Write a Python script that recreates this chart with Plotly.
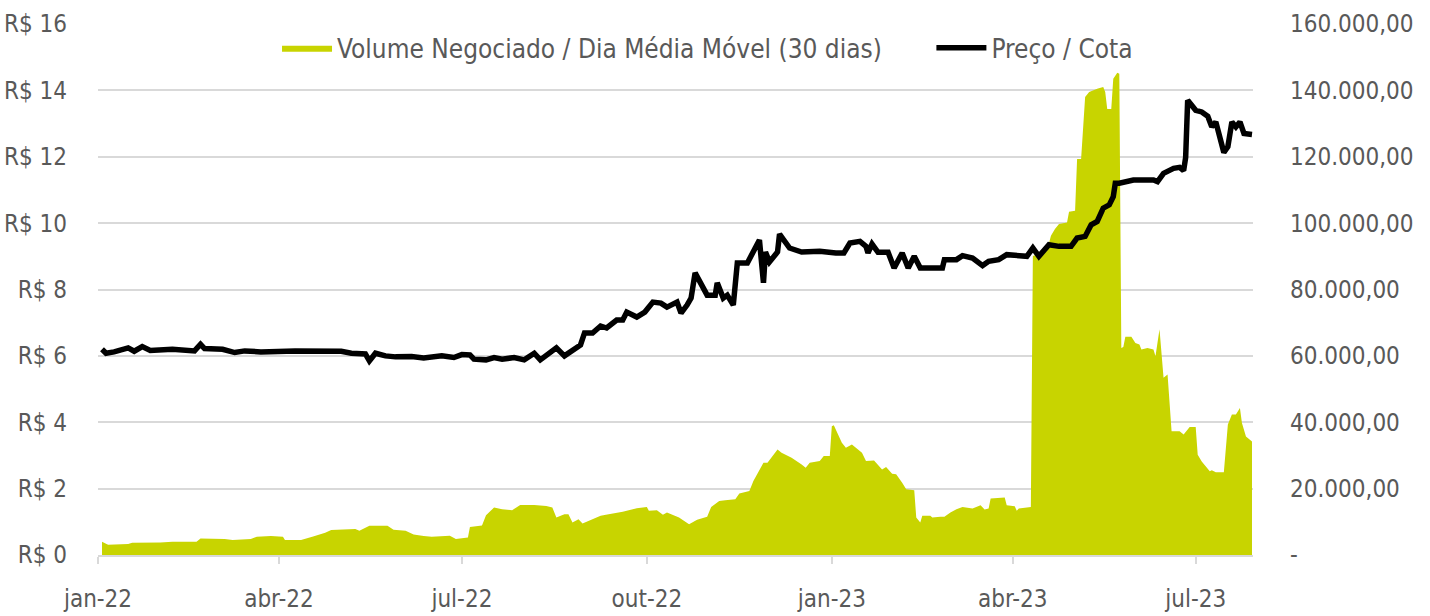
import plotly.graph_objects as go

# ---------------- data ----------------
price_dates = [
    "2022-01-03", "2022-01-05", "2022-01-09", "2022-01-16", "2022-01-19", "2022-01-23", "2022-01-27",
    "2022-02-02", "2022-02-07", "2022-02-18", "2022-02-21", "2022-02-23", "2022-03-04", "2022-03-10",
    "2022-03-15", "2022-03-23", "2022-04-09", "2022-05-02", "2022-05-07", "2022-05-14", "2022-05-16",
    "2022-05-19", "2022-05-24", "2022-05-29", "2022-06-06", "2022-06-12", "2022-06-21", "2022-06-27",
    "2022-07-01", "2022-07-05", "2022-07-07", "2022-07-13", "2022-07-17", "2022-07-21", "2022-07-27",
    "2022-08-01", "2022-08-06", "2022-08-09", "2022-08-14", "2022-08-17", "2022-08-21", "2022-08-25",
    "2022-08-29", "2022-08-31", "2022-09-04", "2022-09-08", "2022-09-11", "2022-09-16", "2022-09-19",
    "2022-09-21", "2022-09-26", "2022-09-30", "2022-10-04", "2022-10-08", "2022-10-11", "2022-10-16",
    "2022-10-18", "2022-10-21", "2022-10-23", "2022-10-25", "2022-10-31", "2022-11-04", "2022-11-05",
    "2022-11-08", "2022-11-10", "2022-11-13", "2022-11-15", "2022-11-20", "2022-11-22", "2022-11-26",
    "2022-11-28", "2022-11-29", "2022-12-01", "2022-12-05", "2022-12-06", "2022-12-11", "2022-12-17",
    "2022-12-26", "2023-01-03", "2023-01-07", "2023-01-10", "2023-01-15", "2023-01-18", "2023-01-19",
    "2023-01-21", "2023-01-24", "2023-01-29", "2023-02-01", "2023-02-05", "2023-02-08", "2023-02-11",
    "2023-02-14", "2023-02-25", "2023-02-26", "2023-03-04", "2023-03-07", "2023-03-12", "2023-03-17",
    "2023-03-20", "2023-03-25", "2023-03-29", "2023-04-08", "2023-04-11", "2023-04-14", "2023-04-19",
    "2023-04-24", "2023-04-30", "2023-05-03", "2023-05-07", "2023-05-10", "2023-05-13", "2023-05-16",
    "2023-05-19", "2023-05-21", "2023-05-22", "2023-05-24", "2023-05-31", "2023-06-10", "2023-06-12",
    "2023-06-15", "2023-06-20", "2023-06-23", "2023-06-25", "2023-06-26", "2023-06-27", "2023-07-01",
    "2023-07-04", "2023-07-07", "2023-07-09", "2023-07-11", "2023-07-15", "2023-07-17", "2023-07-19",
    "2023-07-21", "2023-07-23", "2023-07-25", "2023-07-29",
]
price_values = [
    6.20, 6.08, 6.12, 6.24, 6.14, 6.28, 6.16,
    6.16, 6.20, 6.15, 6.35, 6.22, 6.20, 6.10,
    6.15, 6.12, 6.15, 6.14, 6.08, 6.06, 5.85,
    6.08, 6.00, 5.97, 5.98, 5.94, 6.00, 5.95,
    6.04, 6.03, 5.90, 5.88, 5.95, 5.90, 5.95,
    5.88, 6.08, 5.88, 6.08, 6.24, 6.00, 6.18,
    6.33, 6.69, 6.69, 6.90, 6.84, 7.08, 7.08,
    7.32, 7.17, 7.32, 7.62, 7.59, 7.47, 7.62,
    7.29, 7.53, 7.74, 8.50, 7.83, 7.83, 8.20,
    7.74, 7.83, 7.53, 8.80, 8.80, 9.04, 9.49,
    8.20, 9.13, 8.83, 9.13, 9.67, 9.25, 9.13,
    9.15, 9.10, 9.10, 9.40, 9.45, 9.30, 9.10,
    9.37, 9.12, 9.12, 8.65, 9.10, 8.65, 9.00,
    8.65, 8.65, 8.90, 8.90, 9.02, 8.95, 8.72,
    8.85, 8.90, 9.05, 9.00, 9.25, 9.00, 9.35,
    9.30, 9.30, 9.55, 9.60, 9.95, 10.05, 10.45,
    10.55, 10.80, 11.20, 11.20, 11.30, 11.30, 11.25,
    11.50, 11.65, 11.68, 11.58, 11.98, 13.70, 13.40,
    13.35, 13.22, 12.90, 13.05, 12.13, 12.30, 13.05,
    12.90, 13.05, 12.70, 12.67,
]

volume_dates = [
    "2022-01-03", "2022-01-06", "2022-01-16", "2022-01-18", "2022-02-01", "2022-02-07", "2022-02-19",
    "2022-02-21", "2022-03-05", "2022-03-09", "2022-03-18", "2022-03-21", "2022-03-28", "2022-04-03",
    "2022-04-04", "2022-04-12", "2022-04-18", "2022-04-24", "2022-04-27", "2022-05-09", "2022-05-11",
    "2022-05-16", "2022-05-25", "2022-05-28", "2022-06-03", "2022-06-07", "2022-06-12", "2022-06-16",
    "2022-06-25", "2022-06-28", "2022-07-04", "2022-07-05", "2022-07-11", "2022-07-13", "2022-07-17",
    "2022-07-21", "2022-07-26", "2022-07-30", "2022-08-06", "2022-08-12", "2022-08-15", "2022-08-17",
    "2022-08-21", "2022-08-23", "2022-08-25", "2022-08-28", "2022-08-30", "2022-09-04", "2022-09-08",
    "2022-09-12", "2022-09-19", "2022-09-26", "2022-10-01", "2022-10-02", "2022-10-06", "2022-10-09",
    "2022-10-11", "2022-10-17", "2022-10-22", "2022-10-26", "2022-10-31", "2022-11-02", "2022-11-06",
    "2022-11-09", "2022-11-14", "2022-11-16", "2022-11-21", "2022-11-23", "2022-11-28", "2022-11-30",
    "2022-12-05", "2022-12-07", "2022-12-12", "2022-12-17", "2022-12-19", "2022-12-21", "2022-12-26",
    "2022-12-28", "2022-12-31", "2023-01-01", "2023-01-02", "2023-01-06", "2023-01-08", "2023-01-11",
    "2023-01-16", "2023-01-18", "2023-01-22", "2023-01-26", "2023-01-28", "2023-01-31", "2023-02-02",
    "2023-02-05", "2023-02-07", "2023-02-11", "2023-02-12", "2023-02-14", "2023-02-15", "2023-02-19",
    "2023-02-20", "2023-02-24", "2023-02-26", "2023-03-01", "2023-03-04", "2023-03-07", "2023-03-12",
    "2023-03-16", "2023-03-18", "2023-03-20", "2023-03-21", "2023-03-28", "2023-03-29", "2023-04-02",
    "2023-04-03", "2023-04-04", "2023-04-10", "2023-04-11", "2023-04-18", "2023-04-20", "2023-04-22",
    "2023-04-24", "2023-04-28", "2023-04-29", "2023-05-02", "2023-05-03", "2023-05-05", "2023-05-07",
    "2023-05-09", "2023-05-13", "2023-05-16", "2023-05-17", "2023-05-18", "2023-05-20", "2023-05-21",
    "2023-05-23", "2023-05-24", "2023-05-25", "2023-05-26", "2023-05-27", "2023-05-30", "2023-06-01",
    "2023-06-03", "2023-06-04", "2023-06-07", "2023-06-10", "2023-06-11", "2023-06-13", "2023-06-15",
    "2023-06-17", "2023-06-19", "2023-06-23", "2023-06-25", "2023-06-28", "2023-07-01", "2023-07-02",
    "2023-07-04", "2023-07-08", "2023-07-09", "2023-07-11", "2023-07-15", "2023-07-17", "2023-07-19",
    "2023-07-21", "2023-07-23", "2023-07-24", "2023-07-26", "2023-07-29",
]
volume_values = [
    4000, 3100, 3300, 3700, 3800, 4000, 4000,
    5000, 4800, 4500, 4800, 5500, 5700, 5500,
    4500, 4500, 5600, 6700, 7500, 7800, 7300,
    8800, 8800, 7600, 7300, 6200, 5700, 5500,
    5800, 4800, 5300, 8400, 8900, 12000, 14300,
    13800, 13500, 15100, 15100, 14800, 14300, 11300,
    12300, 12300, 9800, 10800, 9500, 10800, 11800,
    12300, 13000, 14100, 14500, 13300, 13500, 12100,
    12800, 11300, 9300, 10600, 11500, 14500, 16300,
    16500, 16800, 18500, 19300, 22300, 27800, 27800,
    31800, 30800, 29300, 27300, 26300, 27800, 28300,
    29800, 29800, 38800, 39100, 33800, 32300, 33300,
    30800, 28300, 28500, 25800, 26500, 24500, 24300,
    21800, 19800, 19500, 11300, 9800, 11800, 11800,
    11300, 11500, 11500, 12800, 13800, 14500, 14000,
    15000, 13700, 14000, 17000, 17300, 15000, 14700,
    13300, 14000, 14500, 90100, 91600, 96200, 98200,
    99700, 100200, 103400, 103700, 119300, 119300, 138000,
    139500, 140500, 141000, 139500, 134400, 134400, 143500,
    145300, 145000, 62400, 62700, 65800, 65800, 63900,
    63400, 61900, 62400, 61900, 59900, 68000, 53400,
    54400, 37300, 37300, 36300, 38600, 38600, 30200,
    28200, 25200, 25500, 24900, 24900, 39300, 42300,
    42300, 44300, 39800, 35700, 34200,
]

x_tick_dates = ["2022-01-01", "2022-04-01", "2022-07-01", "2022-10-01",
                "2023-01-01", "2023-04-01", "2023-07-01"]
x_tick_labels = ["jan-22", "abr-22", "jul-22", "out-22", "jan-23", "abr-23", "jul-23"]

price_ticks = [0, 2, 4, 6, 8, 10, 12, 14, 16]
price_tick_labels = ["R$ 0", "R$ 2", "R$ 4", "R$ 6", "R$ 8", "R$ 10", "R$ 12", "R$ 14", "R$ 16"]

volume_ticks = [0, 20000, 40000, 60000, 80000, 100000, 120000, 140000, 160000]
volume_tick_labels = ["-", "20.000,00", "40.000,00", "60.000,00", "80.000,00",
                      "100.000,00", "120.000,00", "140.000,00", "160.000,00"]

series_names = ["Volume Negociado / Dia Média Móvel (30 dias)", "Preço / Cota"]

# ---------------- styling ----------------
FONT = "DejaVu Sans Condensed, Liberation Sans Narrow, sans-serif"
TXT = "#595959"
GRID = "#d9d9d9"
GREEN = "#c8d400"
FS = 24
LEGEND_GAP = "\u00a0" * 6

fig = go.Figure()

fig.add_trace(go.Scatter(
    x=volume_dates, y=volume_values,
    name=series_names[0] + LEGEND_GAP,
    mode="lines", line=dict(width=0, color=GREEN),
    fill="tozeroy", fillcolor=GREEN,
    yaxis="y",
))

fig.add_trace(go.Scatter(
    x=price_dates, y=price_values,
    name=series_names[1],
    mode="lines", line=dict(width=5.5, color="black"),
    yaxis="y2",
))

fig.update_layout(
    width=1430, height=616,
    margin=dict(l=98, r=177, t=24, b=61, autoexpand=False),
    paper_bgcolor="white", plot_bgcolor="white",
    font=dict(family=FONT, size=FS, color=TXT),
    showlegend=True,
    legend=dict(
        orientation="h", x=0.155, xanchor="left", y=0.955, yanchor="middle",
        bgcolor="rgba(0,0,0,0)", font=dict(family=FONT, size=26, color=TXT),
        itemwidth=50,
    ),
    xaxis=dict(
        type="date",
        range=["2022-01-01", "2023-07-29 12:00"],
        tickvals=x_tick_dates, ticktext=x_tick_labels,
        showgrid=False, zeroline=False,
        showline=True, linecolor=GRID, linewidth=2,
        ticks="outside", ticklen=7, tickwidth=2, tickcolor=GRID,
        ticklabelstandoff=14, automargin=False,
        tickfont=dict(family=FONT, size=FS, color=TXT),
    ),
    yaxis=dict(
        side="right",
        range=[0, 160000],
        tickvals=volume_ticks, ticktext=volume_tick_labels,
        showgrid=True, gridcolor=GRID, gridwidth=2,
        zeroline=False, showline=False,
        ticks="", ticklabelstandoff=36, automargin=False,
        tickfont=dict(family=FONT, size=FS, color=TXT),
    ),
    yaxis2=dict(
        side="left", overlaying="y",
        range=[0, 16],
        tickvals=price_ticks, ticktext=price_tick_labels,
        showgrid=False, zeroline=False, showline=False,
        ticks="", ticklabelstandoff=30, automargin=False,
        tickfont=dict(family=FONT, size=FS, color=TXT),
    ),
)

fig.write_html("out.html")
